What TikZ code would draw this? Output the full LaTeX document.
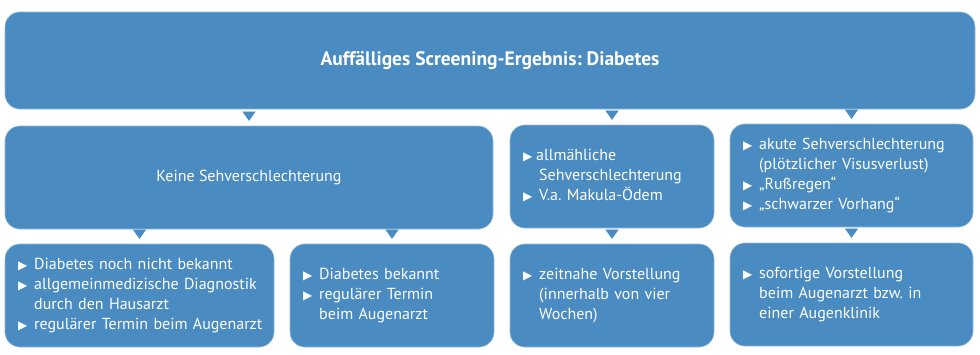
\documentclass[tikz,border=0pt]{standalone}
\usepackage{fontspec}
\setmainfont{PT Sans}
\newfontfamily\symfont{DejaVu Sans}
\usetikzlibrary{arrows.meta}
\definecolor{boxblue}{RGB}{74,139,194}
\newcommand{\bul}{{\symfont\fontsize{12}{12}\selectfont ▶}}
\frenchspacing
\begin{document}
\begin{tikzpicture}[x=1pt,y=-1pt,
  box/.style={fill=boxblue, draw=boxblue!60!white, line width=0.6pt, rounded corners=15pt, text=white, inner sep=0pt, align=left},
  conn/.style={-{Triangle[width=13pt,length=9pt]}, draw=boxblue, fill=boxblue, line width=0.1pt, shorten <=3pt, shorten >=5pt},
  every node/.style={font=\fontsize{16}{19.8}\selectfont}]
\useasboundingbox (0,0) rectangle (980,354);
\node[box, minimum width=970pt, minimum height=97pt, align=center, font=\fontsize{19.5}{22}\selectfont\bfseries] (top) at (490,60.5) {Auffälliges Screening-Ergebnis: Diabetes};
\node[box, minimum width=488pt, minimum height=103pt, align=center] (A) at (249,177.5) {Keine Sehverschlechterung};
\node[box, minimum width=204pt, minimum height=103pt, text width=178pt] (B) at (612,176.5) {\begin{tabular}{@{}l@{\hspace{4pt}}l@{}}\bul & allmähliche\\ & \hspace{3pt}Sehverschlechterung\\ \bul & \hspace{3pt}V.a. Makula-Ödem\end{tabular}};
\node[box, minimum width=243pt, minimum height=103pt, text width=217pt] (C) at (851.5,175.5) {\begin{tabular}{@{}l@{\hspace{7pt}}l@{}}\bul & akute Sehverschlechterung\\ & (plötzlicher Visusverlust)\\ \bul & „Rußregen“\\ \bul & „schwarzer Vorhang“\end{tabular}};
\node[box, minimum width=269pt, minimum height=103pt, text width=243pt] (D) at (139.5,295.5) {\begin{tabular}{@{}l@{\hspace{7pt}}l@{}}\bul & Diabetes noch nicht bekannt\\ \bul & allgemeinmedizische Diagnostik\\ & durch den Hausarzt\\ \bul & regulärer Termin beim Augenarzt\end{tabular}};
\node[box, minimum width=204pt, minimum height=103pt, text width=178pt] (E) at (392,295.5) {\begin{tabular}{@{}l@{\hspace{7pt}}l@{}}\bul & Diabetes bekannt\\ \bul & regulärer Termin\\ & beim Augenarzt\end{tabular}};
\node[box, minimum width=204pt, minimum height=103pt, text width=178pt] (F) at (612,295.5) {\begin{tabular}{@{}l@{\hspace{7pt}}l@{}}\bul & zeitnahe Vorstellung\\ & (innerhalb von vier\\ & Wochen)\end{tabular}};
\node[box, minimum width=243pt, minimum height=103pt, text width=217pt] (G) at (851.5,294.5) {\begin{tabular}{@{}l@{\hspace{7pt}}l@{}}\bul & sofortige Vorstellung\\ & beim Augenarzt bzw. in\\ & einer Augenklinik\end{tabular}};
\draw[conn] (top.south -| A.north) -- (A.north);
\draw[conn] (top.south -| B.north) -- (B.north);
\draw[conn] (top.south -| C.north) -- (C.north);
\draw[conn] (A.south -| D.north) -- (D.north);
\draw[conn] (A.south -| E.north) -- (E.north);
\draw[conn] (B.south) -- (F.north);
\draw[conn] (C.south) -- (G.north);
\end{tikzpicture}
\end{document}
